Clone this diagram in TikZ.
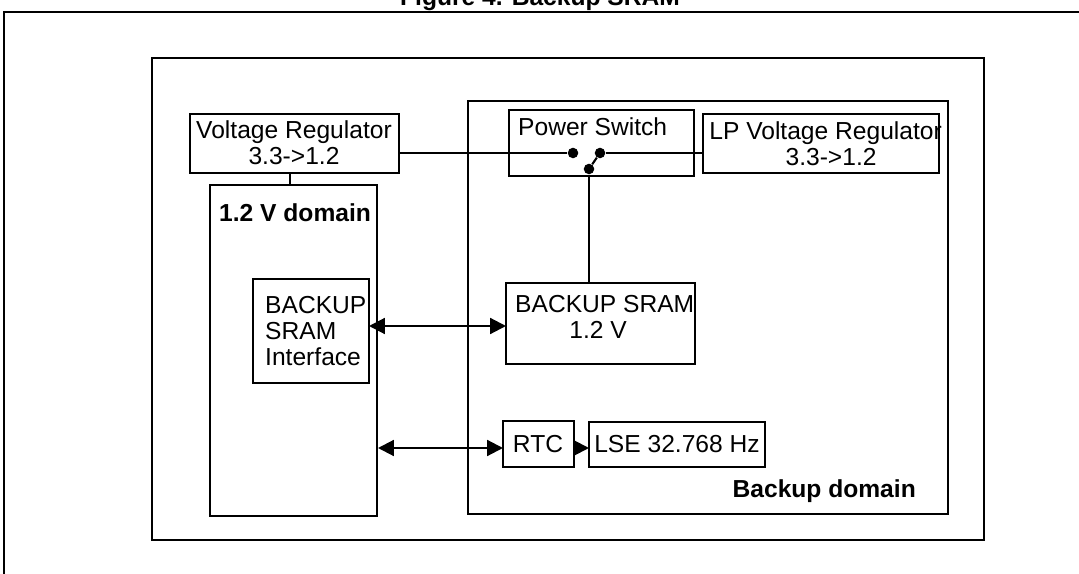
\documentclass[tikz,border=0pt]{standalone}
\usepackage{fontspec}
\setmainfont{Liberation Sans}
\usetikzlibrary{arrows.meta, positioning}
\begin{document}
\begin{tikzpicture}[
		x=0.02cm, y=-0.02cm,
		font=\fontsize{14}{15}\selectfont,
		box/.style={draw, line width=0.8pt},
		label/.style={font=\bfseries\fontsize{14}{15}\selectfont},
		wire/.style={line width=1.2pt},
		bus/.style={line width=1.2pt, {Triangle[length=9pt, width=9pt]}-{Triangle[length=9pt, width=9pt]}},
		pin/.style={circle, fill, inner sep=0pt, minimum size=6pt},
	]
		\useasboundingbox (0,0) rectangle (1079,574);
		%Frames
		\node[label] (title) at (540,-1) {Figure 4. Backup SRAM};
		\draw[line width=1pt] (4,574) -- (4,12) -- (1079,12);
		\draw[line width=1.5pt] (152,58) rectangle (984,540);
		\draw[box] (468,101) rectangle (948,514);
		\draw[box] (210,185) rectangle (377,516);
		\node[label, anchor=base west] (lvdom) at (213,222) {1.2 V domain};
		\node[label, anchor=base east] (bkdom) at (922,497) {Backup domain};

		%Nodes
		\draw[box] (190,114) rectangle (399,173);
		\node[align=center, inner sep=0pt] (vreg) at (294,143) {Voltage Regulator\\3.3->1.2};
		\coordinate (vregE) at (399,153);
		\coordinate (vregS) at (290,173);
		\coordinate (lvtop) at (290,185);

		\draw[box] (509,110) rectangle (694,176);
		\node[anchor=north west] (psw) at (512,111) {Power Switch};
		\draw[box] (703,114) rectangle (939,173);
		\node[anchor=north west, align=left, inner sep=0pt] (lpreg) at (709,121) {LP Voltage Regulator\\\hspace{3.1em}3.3->1.2};
		\coordinate (lpregW) at (703,153);

		\node[pin] (pa) at (573,153) {};
		\node[pin] (pb) at (600,153) {};
		\node[pin] (pc) at (589,169) {};

		\draw[box] (253,279) rectangle (369,383);
		\node[anchor=west, align=left] (bsif) at (259,331) {BACKUP\\SRAM\\Interface};
		\coordinate (bsifE) at (369,326);

		\draw[box] (506,283) rectangle (695,364);
		\node[anchor=north west, align=left] (bsram) at (509,289) {BACKUP SRAM\\\hspace{2.2em}1.2 V};
		\coordinate (bsramW) at (506,326);
		\coordinate (bsramN) at (589,283);

		\coordinate (lvE) at (378,448);
		\draw[box] (503,421) rectangle (574,467);
		\node (rtc) at (538,444) {RTC};
		\coordinate (rtcW) at (503,448);
		\coordinate (rtcE) at (574,448);
		\draw[box] (589,422) rectangle (765,467);
		\node (lse) at (677,444) {LSE 32.768 Hz};
		\coordinate (lseW) at (589,448);

		%Lines
		\draw[wire] (vregE) -- (pa);
		\draw[wire] (pb) -- (lpregW);
		\draw[wire] (pc) -- (pb);
		\draw[wire] (pc) -- (bsramN);
		\draw[wire] (vregS) -- (lvtop);
		\draw[bus] (bsifE) -- (bsramW);
		\draw[bus] (lvE) -- (rtcW);
		\draw[line width=1.2pt, -{Triangle[length=9pt, width=9pt]}] (rtcE) -- (lseW);
	\end{tikzpicture}
\end{document}
